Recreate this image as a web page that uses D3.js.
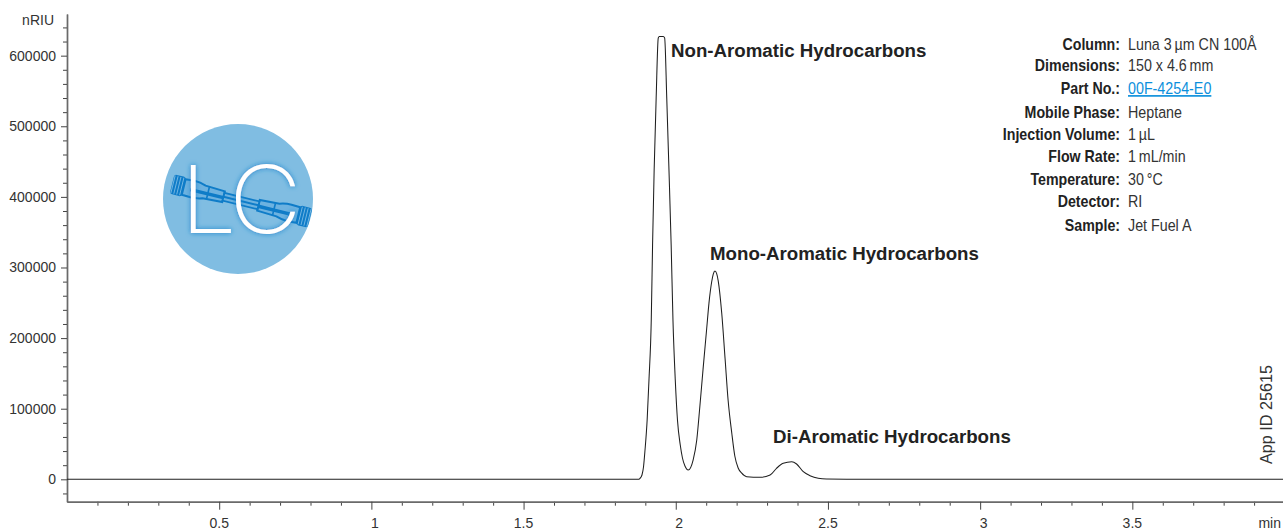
<!DOCTYPE html>
<html>
<head>
<meta charset="utf-8">
<script src="https://cdn.jsdelivr.net/npm/d3@7"></script>
<style>
html,body{margin:0;padding:0;background:#fff;overflow:hidden}
svg{display:block}
text{font-family:"Liberation Sans",Arial,sans-serif}
</style>
</head>
<body>
<svg id="chart" width="1283" height="530"></svg>
<script>
const times = [0,1.876,1.882,1.889,1.894,1.899,1.906,1.912,1.9195,1.9238,1.929,1.9356,1.9425,1.946,1.959,1.9635,1.9704,1.9777,1.9849,1.9908,1.9984,2.0056,2.0148,2.022,2.0302,2.041,2.057,2.069,2.079,2.0897,2.1015,2.1091,2.1179,2.1232,2.1288,2.1344,2.1396,2.151,2.162,2.172,2.184,2.194,2.205,2.216,2.233,2.277,2.310,2.331,2.353,2.381,2.397,2.419,2.441,2.468,2.495,2.594,3.995];
const signal = [0,0,1100,6100,17400,41500,84000,140600,225600,331800,438000,540000,625000,627000,627000,625000,540000,438000,331800,225600,140600,84000,48600,30200,18800,13200,27300,55700,102400,156000,212800,249600,279400,290700,295000,291400,280800,235500,171000,112000,65600,33000,16000,9000,3700,2800,6100,15600,22700,25000,21700,10800,5100,1400,400,100,0];
const yTicks = [0,100000,200000,300000,400000,500000,600000];
const yMinor = [-20000,20000,40000,60000,80000,120000,140000,160000,180000,220000,240000,260000,280000,320000,340000,360000,380000,420000,440000,460000,480000,520000,540000,560000,580000,620000,640000];
const xTicks = [0.5,1,1.5,2,2.5,3,3.5];
const xMinor = [0.1,0.2,0.3,0.4,0.6,0.7,0.8,0.9,1.1,1.2,1.3,1.4,1.6,1.7,1.8,1.9,2.1,2.2,2.3,2.4,2.6,2.7,2.8,2.9,3.1,3.2,3.3,3.4,3.6,3.7,3.8,3.9];
const peakNames = ["Non-Aromatic Hydrocarbons","Mono-Aromatic Hydrocarbons","Di-Aromatic Hydrocarbons"];
const conditionLabels = ["Column:","Dimensions:","Part No.:","Mobile Phase:","Injection Volume:","Flow Rate:","Temperature:","Detector:","Sample:"];
const conditionValues = ["Luna 3\u2009µm CN 100Å","150 x 4.6\u2009mm","00F-4254-E0","Heptane","1\u2009µL","1\u2009mL/min","30\u2009°C","RI","Jet Fuel A"];

const svg = d3.select("#chart");
const x = d3.scaleLinear().domain([0,3.995]).range([67,1283]);
const y = d3.scaleLinear().domain([-31700,659000]).range([501.7,14]);
const AX = "#6a6a6a", TXT = "#333";

function styleAxis(g){
  g.select(".domain").attr("stroke",AX).attr("stroke-width",1.4);
  g.selectAll(".tick line").attr("stroke","#444").attr("stroke-width",1);
  g.selectAll("text").attr("fill",TXT).style("font-size","14px");
}
const yMinorG = svg.append("g").attr("transform","translate(67,0)")
  .call(d3.axisLeft(y).tickValues(yMinor).tickSize(4).tickFormat("").tickSizeOuter(0));
yMinorG.call(styleAxis);
const yG = svg.append("g").attr("transform","translate(67,0)")
  .call(d3.axisLeft(y).tickValues(yTicks).tickSize(6).tickPadding(5).tickFormat(d3.format("d")).tickSizeOuter(0));
yG.call(styleAxis);

const xMinorG = svg.append("g").attr("transform","translate(0,501.7)")
  .call(d3.axisBottom(x).tickValues(xMinor).tickSize(4).tickFormat("").tickSizeOuter(0));
xMinorG.call(styleAxis);
const xG = svg.append("g").attr("transform","translate(0,501.7)")
  .call(d3.axisBottom(x).tickValues(xTicks).tickSize(8).tickPadding(8).tickFormat(d3.format("")).tickSizeOuter(0));
xG.call(styleAxis);
// whole-number labels sit slightly right of their ticks in the reference
xG.selectAll(".tick text").attr("dx",d=>Number.isInteger(d)?3:-0.5);

svg.append("text").attr("x",54).attr("y",25).attr("text-anchor","end").attr("fill",TXT).style("font-size","14px").text("nRIU");
svg.append("text").attr("x",1281).attr("y",528).attr("text-anchor","end").attr("fill",TXT).style("font-size","14px").text("min");

// trace
const line = d3.line().x((d,i)=>x(times[i])).y(d=>y(d)).curve(d3.curveMonotoneX);
svg.append("path").datum(signal).attr("d",line).attr("fill","none").attr("stroke","#1f1f1f").attr("stroke-width",1.05);

// peak names
const peakLabelX = [671,710,773], peakLabelY = [57,259.5,442.5];
svg.selectAll("text.peak").data(peakNames).join("text").attr("class","peak")
  .attr("x",(d,i)=>peakLabelX[i]).attr("y",(d,i)=>peakLabelY[i])
  .attr("fill","#222").style("font-size","18.7px").style("font-weight","700").text(d=>d);

// conditions
const rowY = [49.5,71,94,117.5,140,161.5,184.5,207,230.5];
svg.selectAll("text.clabel").data(conditionLabels).join("text").attr("class","clabel")
  .attr("transform",(d,i)=>`translate(1120,${rowY[i]}) scale(0.861,1)`).attr("text-anchor","end").attr("fill","#222")
  .style("font-size","16.5px").style("font-weight","700").text(d=>d);
svg.selectAll("text.cvalue").data(conditionValues).join("text").attr("class","cvalue")
  .attr("transform",(d,i)=>`translate(1128,${rowY[i]}) scale(0.866,1)`)
  .attr("fill",(d,i)=>i===2?"#0b8fdc":"#333")
  .style("text-decoration",(d,i)=>i===2?"underline":null)
  .style("font-size","16.5px").text(d=>d);

// App ID
svg.append("text").attr("transform","translate(1272,464) rotate(-90)").attr("fill",TXT).style("font-size","16.2px").text("App ID 25615");

// logo
const defs = svg.append("defs");
const glow = defs.append("filter").attr("id","glow").attr("x","-30%").attr("y","-30%").attr("width","160%").attr("height","160%");
glow.append("feDropShadow").attr("dx",0).attr("dy",0).attr("stdDeviation",2.5).attr("flood-color","#1f84cc").attr("flood-opacity",1);
const logo = svg.append("g").attr("transform","translate(238,199)");
logo.append("circle").attr("r",75).attr("fill","#80bde2");
const BLUE = "#0f7cc8";
const col = logo.append("g").attr("transform","translate(3,2) rotate(13.8)");
[1,-1].forEach(s=>{
  const e = col.append("g").attr("transform",`scale(${s},1)`);
  e.append("rect").attr("x",59).attr("y",-10).attr("width",12).attr("height",20).attr("rx",2.5).attr("fill",BLUE);
  [61,64,67,70].forEach(v=>e.append("line").attr("x1",v).attr("x2",v).attr("y1",-9).attr("y2",9).attr("stroke","#7fbde6").attr("stroke-width",0.8));
  e.append("path").attr("d","M59,-8 L50,-8.5 Q44,-8.5 38,-6.5 L18,-5.5 L18,5.5 L38,6.5 Q44,8.5 50,8.5 L59,8 Z").attr("fill","#6db2e0").attr("stroke",BLUE).attr("stroke-width",2);
  e.append("line").attr("x1",18).attr("x2",52).attr("y1",1).attr("y2",1).attr("stroke",BLUE).attr("stroke-width",3.4);
  e.append("line").attr("x1",34).attr("x2",34).attr("y1",-6).attr("y2",6).attr("stroke",BLUE).attr("stroke-width",1.6);
});
col.append("rect").attr("x",-18).attr("y",-4).attr("width",36).attr("height",8).attr("fill","#6db2e0").attr("stroke",BLUE).attr("stroke-width",1.8);
col.append("line").attr("x1",-18).attr("x2",18).attr("y1",0).attr("y2",0).attr("stroke",BLUE).attr("stroke-width",2);
const lc = logo.append("text").attr("transform","translate(-57.5,34) scale(1.06,1)").attr("fill","#fff").attr("filter","url(#glow)")
  .style("font-family","Inter, Lato, sans-serif").style("font-weight","200").style("font-size","94px");
lc.append("tspan").text("L");
lc.append("tspan").attr("dx",-7).text("C");
</script>
</body>
</html>
